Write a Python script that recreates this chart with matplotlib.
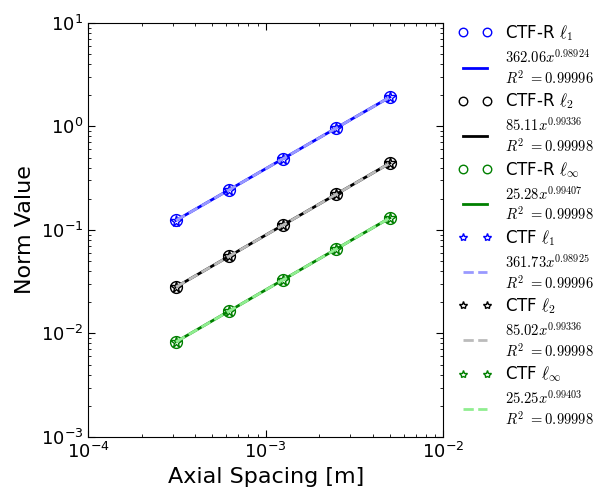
import matplotlib
matplotlib.use('Agg')
import matplotlib.pyplot as plt

plt.rcParams['mathtext.fontset'] = 'cm'

# axial spacing [m]
spacing = [3.125e-4, 6.25e-4, 1.25e-3, 2.5e-3, 5e-3]

# CTF-R norms
ctfr_l1 = [0.1234, 0.2448, 0.4859, 0.9646, 1.915]
ctfr_l2 = [0.02806, 0.05585, 0.11119, 0.2214, 0.4407]
ctfr_linf = [0.008288, 0.01651, 0.03288, 0.06549, 0.1304]

# CTF norms
ctf_l1 = [0.1232, 0.2446, 0.4856, 0.9640, 1.914]
ctf_l2 = [0.02803, 0.05580, 0.11108, 0.22115, 0.4403]
ctf_linf = [0.008281, 0.016494, 0.032853, 0.065437, 0.13034]

# fit labels
ctfr_fits = [r'$362.06x^{0.98924}$' + '\n' + r'$R^2\ =0.99996$',
             r'$85.11x^{0.99336}$' + '\n' + r'$R^2\ =0.99998$',
             r'$25.28x^{0.99407}$' + '\n' + r'$R^2\ =0.99998$']
ctf_fits = [r'$361.73x^{0.98925}$' + '\n' + r'$R^2\ =0.99996$',
            r'$85.02x^{0.99336}$' + '\n' + r'$R^2\ =0.99998$',
            r'$25.25x^{0.99403}$' + '\n' + r'$R^2\ =0.99998$']
norm_names = [r'$\ell_1$', r'$\ell_2$', r'$\ell_\infty$']

fig = plt.figure(figsize=(5.99, 4.96), dpi=100)
ax = fig.add_axes([0.147, 0.119, 0.593, 0.835])

colors = ['b', 'k', 'g']
dash_colors = ['#9999ff', '#bbbbbb', '#90ee90']

for vals, fit, name, c in zip([ctfr_l1, ctfr_l2, ctfr_linf], ctfr_fits, norm_names, colors):
    ax.loglog(spacing, vals, 'o', mfc='none', mec=c, ms=8.5, mew=1, label='CTF-R ' + name)
    ax.loglog(spacing, vals, '-', color=c, lw=2, label=fit)

for vals, fit, name, c, dc in zip([ctf_l1, ctf_l2, ctf_linf], ctf_fits, norm_names, colors, dash_colors):
    ax.loglog(spacing, vals, '*', mfc='none', mec=c, ms=8.5, mew=1, label='CTF ' + name)
    ax.loglog(spacing, vals, '--', color=dc, lw=2, label=fit)

ax.set_xlim(1e-4, 1e-2)
ax.set_ylim(1e-3, 1e1)
ax.tick_params(which='both', direction='in', top=True, right=True, labelsize=13)
ax.tick_params(which='major', length=5)
ax.tick_params(which='minor', length=2.5)
ax.set_xlabel('Axial Spacing [m]', fontsize=16)
ax.set_ylabel('Norm Value', fontsize=16)

leg = ax.legend(loc='upper left', bbox_to_anchor=(1.0, 1.035), numpoints=2, frameon=False,
                fontsize=12, markerscale=0.72, handlelength=2.0, labelspacing=0.29)
for t in leg.get_texts():
    if '\n' in t.get_text():
        t.set_fontsize(10.5)

fig.savefig('out.png', dpi=100)
